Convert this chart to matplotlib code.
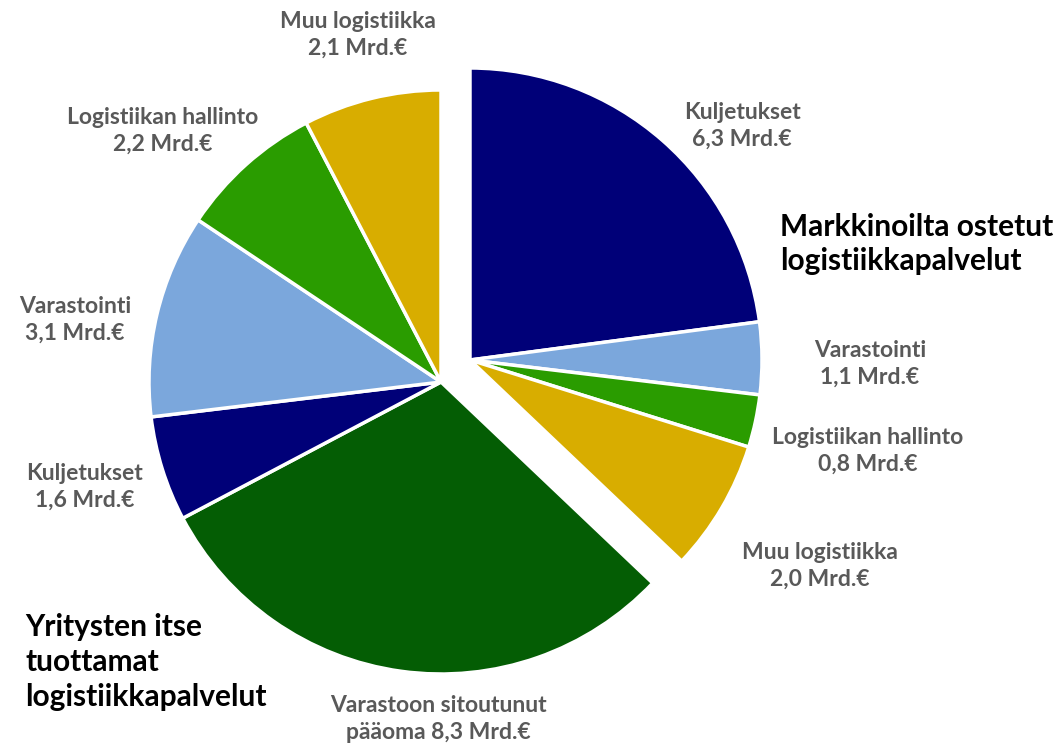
import matplotlib
matplotlib.use("Agg")
import matplotlib.pyplot as plt

# ---- data ----
market_labels = ["Kuljetukset", "Varastointi", "Logistiikan hallinto", "Muu logistiikka"]
market_values = [6.3, 1.1, 0.8, 2.0]
own_labels = ["Varastoon sitoutunut\npääoma", "Kuljetukset", "Varastointi",
              "Logistiikan hallinto", "Muu logistiikka"]
own_values = [8.3, 1.6, 3.1, 2.2, 2.1]
group_titles = ["Markkinoilta ostetut\nlogistiikkapalvelut",
                "Yritysten itse\ntuottamat\nlogistiikkapalvelut"]

# ---- style ----
market_colors = ["#000078", "#7BA7DC", "#2A9C00", "#D8AD00"]
own_colors = ["#045D04", "#000078", "#7BA7DC", "#2A9C00", "#D8AD00"]
W, H = 1060, 747
FONT = ["Lato", "DejaVu Sans"]
LABEL_COLOR = "#595959"
LABEL_SIZE = 16.5
TITLE_SIZE = 21.5

fig = plt.figure(figsize=(W / 100, H / 100), dpi=100)
ax = fig.add_axes([0, 0, 1, 1])

R = 292
own_center = (441, H - 382)
market_center = (470, H - 360)

wp = dict(edgecolor="white", linewidth=2.5)

# market group (exploded), with invisible remainder
mw, _ = ax.pie(market_values + [sum(own_values)], colors=market_colors + ["none"],
               startangle=90, counterclock=False, radius=R, center=market_center,
               wedgeprops=wp, frame=True)
mw[-1].set_visible(False)

# own group, with invisible leading part
ow, _ = ax.pie([sum(market_values)] + own_values, colors=["none"] + own_colors,
               startangle=90, counterclock=False, radius=R, center=own_center,
               wedgeprops=wp, frame=True)
ow[0].set_visible(False)
ax.set_xlim(0, W)
ax.set_ylim(0, H)
ax.set_aspect("equal")
ax.axis("off")

def fmt(v):
    return f"{v:.1f}".replace(".", ",") + " Mrd.€"

# label layout (pixel positions, image coords)
market_pos = [(742, 126), (870, 364), (868, 451), (820, 566)]
own_pos = [(438, 719), (85, 487), (75, 320), (163, 131), (358, 35)]

for lab, v, (x, y) in zip(market_labels, market_values, market_pos):
    ax.text(x, H - y, f"{lab}\n{fmt(v)}", ha="center", va="center", fontsize=LABEL_SIZE,
            fontweight="bold", color=LABEL_COLOR, family=FONT, linespacing=1.3)

for lab, v, (x, y) in zip(own_labels, own_values, own_pos):
    if "\n" in lab:
        txt = f"{lab} {fmt(v)}"
    else:
        txt = f"{lab}\n{fmt(v)}"
    ax.text(x, H - y, txt, ha="center", va="center", fontsize=LABEL_SIZE,
            fontweight="bold", color=LABEL_COLOR, family=FONT, linespacing=1.3)

ax.text(780, H - 244, group_titles[0], ha="left", va="center", fontsize=TITLE_SIZE,
        fontweight="bold", color="black", family=FONT, linespacing=1.3)
ax.text(25, H - 662, group_titles[1], ha="left", va="center", fontsize=TITLE_SIZE,
        fontweight="bold", color="black", family=FONT, linespacing=1.3)

fig.savefig("out.png", dpi=100)
